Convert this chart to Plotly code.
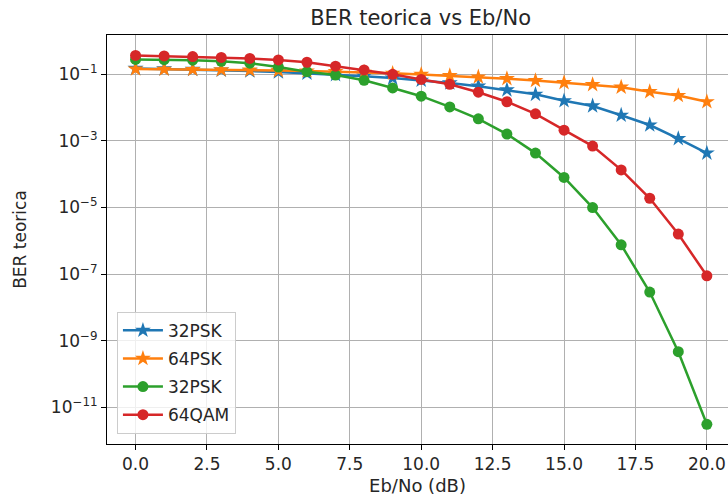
import plotly.graph_objects as go

# Eb/No sweep in dB
ebno_db = list(range(0, 21))

# Theoretical bit error rates per modulation
ber_32psk = [0.150, 0.145, 0.140, 0.133, 0.125, 0.117, 0.108, 0.098, 0.088, 0.077,
             0.066, 0.055, 0.044, 0.034, 0.025, 0.016, 0.0112, 0.0059, 0.0030, 0.00117,
             0.00043]
ber_64psk = [0.144, 0.142, 0.139, 0.136, 0.133, 0.129, 0.125, 0.120, 0.114, 0.107,
             0.099, 0.091, 0.083, 0.074, 0.065, 0.056, 0.049, 0.041, 0.030, 0.023,
             0.015]
ber_32psk_b = [0.280, 0.275, 0.265, 0.245, 0.215, 0.165, 0.120, 0.095, 0.066, 0.039,
               0.022, 0.0105, 0.0046, 0.0016, 4.3e-4, 8.0e-5, 1.0e-5, 7.6e-7, 2.9e-8,
               4.7e-10, 3.1e-12]
ber_64qam = [0.370, 0.355, 0.340, 0.320, 0.300, 0.270, 0.230, 0.175, 0.135, 0.100,
             0.070, 0.050, 0.029, 0.015, 0.0065, 0.0021, 7.0e-4, 1.35e-4, 1.9e-5,
             1.6e-6, 8.9e-8]

series = [
    ("32PSK", ber_32psk, "#1f77b4", "star", 12),
    ("64PSK", ber_64psk, "#ff7f0e", "star", 12),
    ("32PSK", ber_32psk_b, "#2ca02c", "circle", 11),
    ("64QAM", ber_64qam, "#d62728", "circle", 11),
]

y_tickvals = [1e-11, 1e-9, 1e-7, 1e-5, 1e-3, 1e-1]
y_ticktext = ["10<sup>\u221211</sup>", "10<sup>\u22129</sup>", "10<sup>\u22127</sup>",
              "10<sup>\u22125</sup>", "10<sup>\u22123</sup>", "10<sup>\u22121</sup>"]
x_tickvals = [0, 2.5, 5, 7.5, 10, 12.5, 15, 17.5, 20]
x_ticktext = ["0.0", "2.5", "5.0", "7.5", "10.0", "12.5", "15.0", "17.5", "20.0"]

fig = go.Figure()
for i, (name, vals, color, symbol, msize) in enumerate(series):
    fig.add_trace(go.Scatter(
        x=ebno_db, y=vals, name=name, mode="lines+markers",
        legendgroup=f"g{i}",
        line=dict(color=color, width=2.5),
        marker=dict(symbol=symbol, size=msize, color=color, line=dict(width=0)),
    ))

font_family = "DejaVu Sans"
text_color = "#262626"
fig.update_layout(
    width=728, height=502,
    margin=dict(l=107, r=0, t=35, b=58),
    paper_bgcolor="white", plot_bgcolor="white",
    font=dict(family=font_family, size=17, color=text_color),
    title=dict(text="BER teorica vs Eb/No", x=0.505, xref="paper", xanchor="center",
               y=1 - 18 / 502, yanchor="middle", font=dict(size=21)),
    showlegend=True,
    legend=dict(x=0.016, y=0.025, xanchor="left", yanchor="bottom",
                bgcolor="rgba(255,255,255,0.8)", bordercolor="#cccccc", borderwidth=1,
                font=dict(size=17), tracegroupgap=3, itemwidth=40),
)
fig.update_xaxes(
    range=[-1, 20.74], tickvals=x_tickvals, ticktext=x_ticktext,
    tickfont=dict(size=17),
    showgrid=True, gridcolor="#b0b0b0", gridwidth=1,
    showline=True, linecolor="#000000", linewidth=1, mirror=True,
    ticks="outside", ticklen=5, tickcolor="#000000", zeroline=False,
    title=dict(text="Eb/No (dB)", standoff=5, font=dict(size=18)),
)
fig.update_yaxes(
    type="log", range=[-12.10, 0.18], tickvals=y_tickvals, ticktext=y_ticktext,
    tickfont=dict(size=17),
    showgrid=True, gridcolor="#b0b0b0", gridwidth=1,
    showline=True, linecolor="#000000", linewidth=1,
    ticks="outside", ticklen=5, tickcolor="#000000", zeroline=False,
    title=dict(text="BER teorica", standoff=19, font=dict(size=17)),
)

fig.write_html("out.html")
